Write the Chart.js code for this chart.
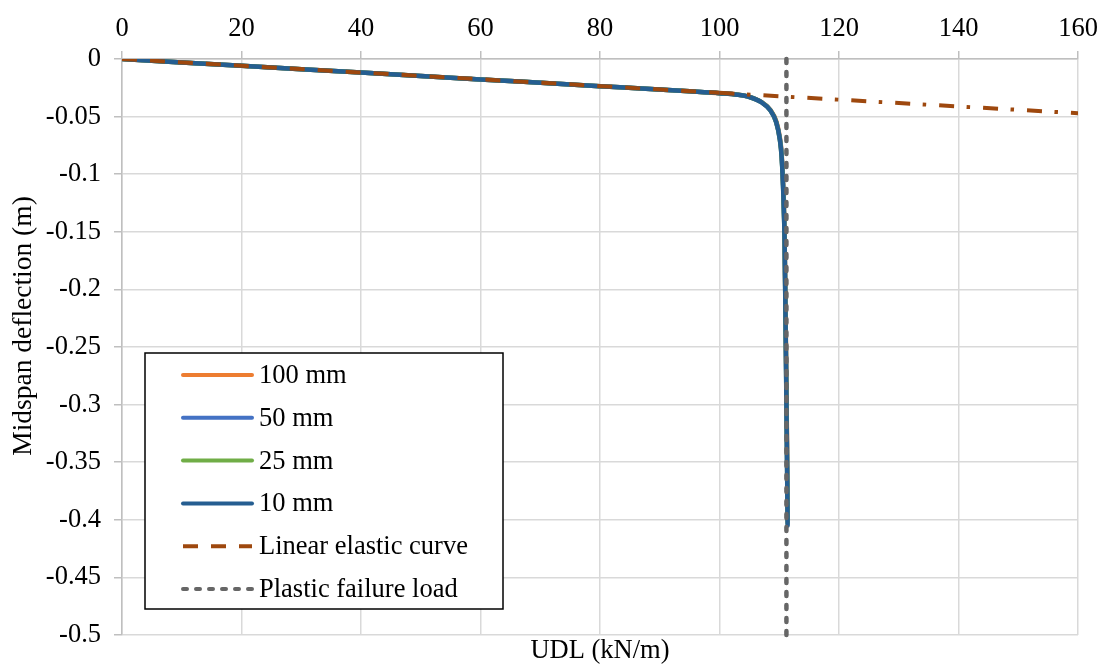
<!DOCTYPE html>
<html>
<head>
<meta charset="utf-8">
<title>Midspan deflection vs UDL</title>
<script src="https://cdn.jsdelivr.net/npm/chart.js@4.4.1/dist/chart.umd.min.js"></script>
<style>
  html, body { margin: 0; padding: 0; background: #fff; }
  #wrap { width: 1108px; height: 667px; position: relative; }
</style>
</head>
<body>
<div id="wrap"><canvas id="deflChart"></canvas></div>
<script>
// FE results (mesh size series) - load in kN/m, deflection in m
const udl = [0, 20, 40, 60, 80, 95, 100, 103, 105, 107, 108.5, 109.5, 110.1, 110.4, 110.7, 110.9, 111.1, 111.3, 111.4];
const defl100 = [0, -0.0059, -0.0118, -0.0177, -0.0236, -0.0281, -0.0297, -0.0309, -0.0328, -0.0372, -0.0440, -0.054, -0.068, -0.082, -0.115, -0.155, -0.24, -0.33, -0.39];
const defl50 = [0, -0.0059, -0.0118, -0.0177, -0.0236, -0.0281, -0.0297, -0.0310, -0.0329, -0.0374, -0.0443, -0.055, -0.069, -0.084, -0.118, -0.158, -0.245, -0.34, -0.40];
const defl25 = [0, -0.0059, -0.0118, -0.0177, -0.0236, -0.0281, -0.0297, -0.0310, -0.0330, -0.0375, -0.0444, -0.055, -0.070, -0.085, -0.119, -0.159, -0.248, -0.345, -0.403];
const defl10 = [0, -0.0059, -0.0118, -0.0177, -0.0236, -0.0281, -0.0297, -0.0310, -0.0330, -0.0375, -0.0445, -0.055, -0.070, -0.085, -0.120, -0.160, -0.250, -0.350, -0.405];

// hand calc references
const elasticUdl = [0, 100, 160];
const elasticDefl = [0, -0.0294, -0.0471];
const plasticUdl = [111.2, 111.2];
const plasticDefl = [0, -0.5];

const xTicks = { min: 0, max: 160, step: 20 };
const yTicks = { min: -0.5, max: 0, step: 0.05 };

const seriesNames = ['100 mm', '50 mm', '25 mm', '10 mm', 'Linear elastic curve', 'Plastic failure load'];
const xTitle = 'UDL (kN/m)';
const yTitle = 'Midspan deflection (m)';

const FONT = '"Liberation Serif", "Times New Roman", serif';
Chart.defaults.font.family = FONT;
Chart.defaults.font.size = 26.5;
Chart.defaults.color = '#000';

function pairs(xs, ys) {
    return xs.map((x, i) => ({ x: x, y: ys[i] }));
}

const dashElastic = [15, 13];
const dashDotElastic = [15, 12.5, 3.5, 13];
const dashPlastic = [4, 9];

function feSeries(label, data, color, order) {
    return {
        label: label,
        data: pairs(udl, data),
        borderColor: color,
        backgroundColor: color,
        borderWidth: 4.5,
        pointRadius: 0,
        cubicInterpolationMode: 'monotone',
        borderCapStyle: 'round',
        borderJoinStyle: 'round',
        order: order
    };
}

const datasets = [
    feSeries(seriesNames[0], defl100, '#ED7D31', 6),
    feSeries(seriesNames[1], defl50, '#4472C4', 5),
    feSeries(seriesNames[2], defl25, '#70AD47', 4),
    feSeries(seriesNames[3], defl10, '#255E91', 3),
    {
        label: seriesNames[4],
        data: pairs(elasticUdl, elasticDefl),
        borderColor: '#9E480E',
        borderWidth: 4,
        borderDash: dashElastic,
        borderCapStyle: 'butt',
        pointRadius: 0,
        order: 1,
        segment: {
            // past the first-yield region the line switches to dash-dot
            borderDash: ctx => ctx.p0.parsed.x >= 100 ? dashDotElastic : dashElastic
        }
    },
    {
        label: seriesNames[5],
        data: pairs(plasticUdl, plasticDefl),
        borderColor: '#666666',
        borderWidth: 4.5,
        borderDash: dashPlastic,
        borderCapStyle: 'round',
        pointRadius: 0,
        order: 0,
        clip: 4
    }
];

// legend box drawn inside the plot area, lower left
const boxLegend = {
    id: 'boxLegend',
    afterDraw(chart) {
        const ctx = chart.ctx;
        const left = 145, top = 353, w = 358, h = 256;
        const rowH = 42.8, firstRow = 375;
        const lineX0 = 183, lineX1 = 252, textX = 259;

        ctx.save();
        ctx.fillStyle = '#fff';
        ctx.fillRect(left, top, w, h);
        ctx.strokeStyle = '#000';
        ctx.lineWidth = 1.5;
        ctx.strokeRect(left, top, w, h);

        chart.data.datasets.forEach((ds, i) => {
            const y = firstRow + i * rowH;
            ctx.beginPath();
            ctx.setLineDash(ds.borderDash || []);
            ctx.lineCap = ds.borderCapStyle || 'round';
            ctx.strokeStyle = ds.borderColor;
            ctx.lineWidth = 4;
            ctx.moveTo(lineX0, y);
            ctx.lineTo(lineX1, y);
            ctx.stroke();

            ctx.setLineDash([]);
            ctx.fillStyle = '#000';
            ctx.font = '26.5px ' + FONT;
            ctx.textBaseline = 'middle';
            ctx.textAlign = 'left';
            ctx.fillText(ds.label, textX, y + 1);
        });
        ctx.restore();
    }
};

// vertical axis title, centred on the canvas rather than the plot
const sideTitle = {
    id: 'sideTitle',
    afterDraw(chart) {
        const ctx = chart.ctx;
        ctx.save();
        ctx.translate(24, 326);
        ctx.rotate(-Math.PI / 2);
        ctx.fillStyle = '#000';
        ctx.font = '27.5px ' + FONT;
        ctx.textAlign = 'center';
        ctx.textBaseline = 'middle';
        ctx.fillText(yTitle, 0, 0);
        ctx.restore();
    }
};

new Chart(document.getElementById('deflChart'), {
    type: 'line',
    data: { datasets: datasets },
    options: {
        responsive: true,
        maintainAspectRatio: false,
        animation: false,
        layout: { padding: { left: 0, right: 30, top: 0, bottom: 0 } },
        plugins: {
            legend: { display: false },
            tooltip: { enabled: false }
        },
        scales: {
            x: {
                type: 'linear',
                position: 'top',
                min: xTicks.min,
                max: xTicks.max,
                ticks: { stepSize: xTicks.step, padding: 6 },
                grid: { color: '#d9d9d9', lineWidth: 1.5, tickLength: 8, tickColor: '#bfbfbf' },
                border: { color: '#bfbfbf', width: 1.5 },
                afterFit: axis => { axis.height = 59; }
            },
            xTitle: {
                type: 'linear',
                position: 'bottom',
                axis: 'x',
                min: xTicks.min,
                max: xTicks.max,
                ticks: { display: false },
                grid: { display: false, drawTicks: false },
                border: { display: false },
                title: { display: true, text: xTitle, padding: 0 },
                afterFit: axis => { axis.height = 32; }
            },
            y: {
                type: 'linear',
                min: yTicks.min,
                max: yTicks.max,
                ticks: {
                    stepSize: yTicks.step,
                    padding: 13,
                    callback: v => String(Number(v.toFixed(2)))
                },
                grid: { color: '#d9d9d9', lineWidth: 1.5, tickLength: 8, tickColor: '#bfbfbf' },
                border: { color: '#bfbfbf', width: 1.5 },
                afterFit: axis => { axis.width = 122; }
            }
        }
    },
    plugins: [boxLegend, sideTitle]
});
</script>
</body>
</html>
